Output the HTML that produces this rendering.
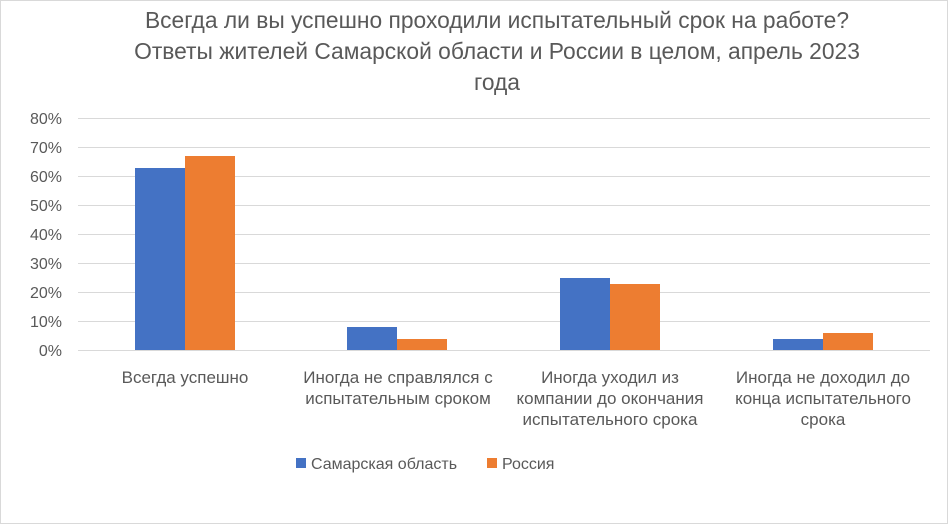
<!DOCTYPE html>
<html><head><meta charset="utf-8"><style>
html,body{margin:0;padding:0;background:#fff;}
svg{display:block;font-family:"Liberation Sans","DejaVu Sans",sans-serif;}
</style></head><body>
<svg width="948" height="524" viewBox="0 0 948 524" xmlns="http://www.w3.org/2000/svg">
<rect x="0.5" y="0.5" width="947" height="523" fill="#fff" stroke="#d9d9d9"/>
<g fill="#595959" font-size="22.8" text-anchor="middle">
<text x="497" y="28">Всегда ли вы успешно проходили испытательный срок на работе?</text>
<text x="497" y="59">Ответы жителей Самарской области и России в целом, апрель 2023</text>
<text x="497" y="90">года</text>
</g>
<g stroke="#d9d9d9" stroke-width="1">
<line x1="78" x2="930" y1="118.5" y2="118.5"/>
<line x1="78" x2="930" y1="147.5" y2="147.5"/>
<line x1="78" x2="930" y1="176.5" y2="176.5"/>
<line x1="78" x2="930" y1="205.5" y2="205.5"/>
<line x1="78" x2="930" y1="234.5" y2="234.5"/>
<line x1="78" x2="930" y1="263.5" y2="263.5"/>
<line x1="78" x2="930" y1="292.5" y2="292.5"/>
<line x1="78" x2="930" y1="321.5" y2="321.5"/>
<line x1="78" x2="930" y1="350.5" y2="350.5"/>
</g>
<g fill="#595959" font-size="16" text-anchor="end">
<text x="62" y="124">80%</text>
<text x="62" y="153">70%</text>
<text x="62" y="182">60%</text>
<text x="62" y="211">50%</text>
<text x="62" y="240">40%</text>
<text x="62" y="269">30%</text>
<text x="62" y="298">20%</text>
<text x="62" y="327">10%</text>
<text x="62" y="356">0%</text>
</g>
<g fill="#4472c4">
<rect x="135" y="168" width="50" height="182"/>
<rect x="347" y="327" width="50" height="23"/>
<rect x="560" y="278" width="50" height="72"/>
<rect x="773" y="339" width="50" height="11"/>
</g>
<g fill="#ed7d31">
<rect x="185" y="156" width="50" height="194"/>
<rect x="397" y="339" width="50" height="11"/>
<rect x="610" y="284" width="50" height="66"/>
<rect x="823" y="333" width="50" height="17"/>
</g>
<g fill="#595959" font-size="17" text-anchor="middle">
<text x="185" y="383">Всегда успешно</text>
<text x="398" y="383">Иногда не справлялся с</text>
<text x="398" y="404">испытательным сроком</text>
<text x="610" y="383">Иногда уходил из</text>
<text x="610" y="404">компании до окончания</text>
<text x="610" y="425">испытательного срока</text>
<text x="823" y="383">Иногда не доходил до</text>
<text x="823" y="404">конца испытательного</text>
<text x="823" y="425">срока</text>
</g>
<rect x="296" y="458" width="10" height="10" fill="#4472c4"/>
<text x="311" y="469" fill="#595959" font-size="16">Самарская область</text>
<rect x="487" y="458" width="10" height="10" fill="#ed7d31"/>
<text x="502" y="469" fill="#595959" font-size="16">Россия</text>
</svg>
</body></html>
